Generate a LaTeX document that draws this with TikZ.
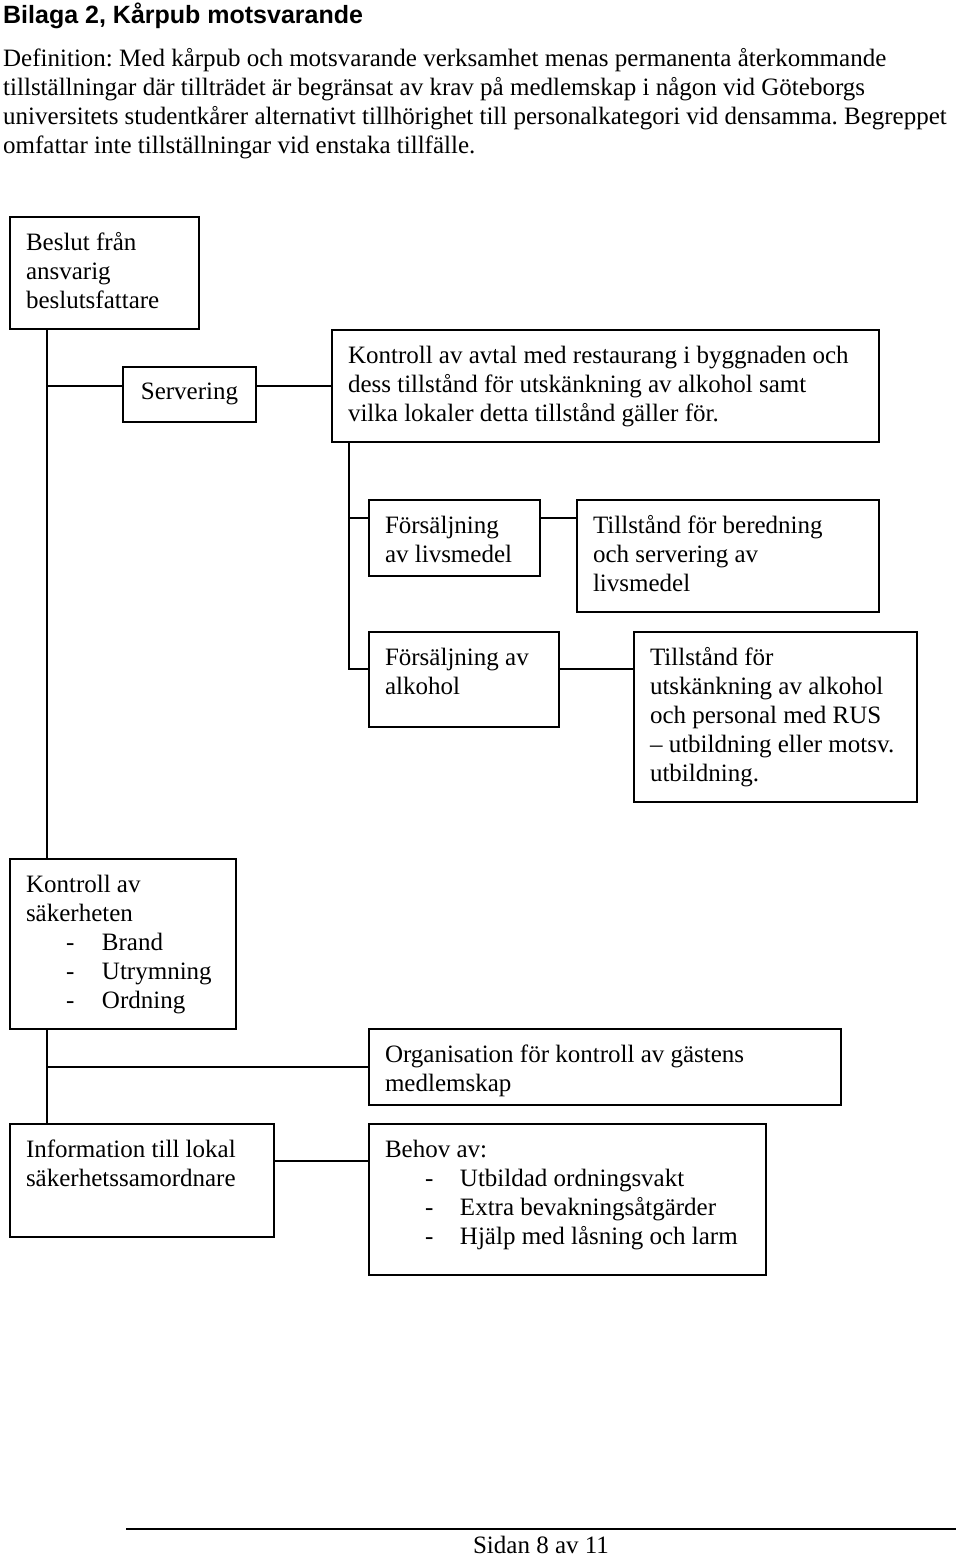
\documentclass[tikz,border=0pt]{standalone}
\usepackage{fontspec}
\setmainfont{Liberation Serif}
\setsansfont{Liberation Sans}
\newcommand{\natsp}{\spaceskip=0pt\xspaceskip=0pt\relax}
\begin{document}
\frenchspacing
\begin{tikzpicture}[x=1pt,y=-1pt,
  box/.style={draw, line width=2pt, anchor=north west, inner xsep=16pt, inner ysep=0pt,
    align=left, text height=33pt, font=\fontsize{25pt}{29pt}\selectfont\frenchspacing},
  conn/.style={line width=2pt},
  txt/.style={inner sep=0pt, font=\fontsize{25pt}{29pt}\selectfont\frenchspacing}]
\useasboundingbox[fill=white] (0,0) rectangle (960,1557);

% header
\node[txt, anchor=base west] (title) at (3,24) {\sffamily\bfseries Bilaga 2, Kårpub motsvarande};
\node[txt, anchor=north west, text width=957pt, align=left, text height=26pt] (def) at (3,40)
  {\natsp\mbox{Definition: Med kårpub och motsvarande verksamhet menas permanenta återkommande}\\
   \mbox{tillställningar där tillträdet är begränsat av krav på medlemskap i någon vid Göteborgs}\\
   \mbox{universitets studentkårer alternativt tillhörighet till personalkategori vid densamma. Begreppet}\\
   \mbox{omfattar inte tillställningar vid enstaka tillfälle.}};

% boxes
\node[box, text width=157pt, text depth=79pt] (beslut) at (9,216)
  {\natsp Beslut från\\ansvarig\\beslutsfattare};
\node[box, text width=101pt, text depth=23pt, align=center, text height=32pt] (serv) at (122,366)
  {\natsp Servering};
\node[box, text width=515pt, text depth=79pt] (avtal) at (331,329)
  {\natsp\mbox{Kontroll av avtal med restaurang i byggnaden och}\\\mbox{dess tillstånd för utskänkning av alkohol samt}\\\mbox{vilka lokaler detta tillstånd gäller för.}};
\node[box, text width=139pt, text depth=43pt] (livs) at (368,499)
  {\natsp Försäljning\\av livsmedel};
\node[box, text width=270pt, text depth=79pt] (bered) at (576,499)
  {\natsp\mbox{Tillstånd för beredning}\\och servering av\\livsmedel};
\node[box, text width=158pt, text depth=62pt] (alk) at (368,631)
  {\natsp\mbox{Försäljning av}\\alkohol};
\node[box, text width=251pt, text depth=137pt] (utsk) at (633,631)
  {\natsp Tillstånd för\\\mbox{utskänkning av alkohol}\\\mbox{och personal med RUS}\\\mbox{– utbildning eller motsv.}\\utbildning.};
\node[box, text width=194pt, text depth=137pt] (sak) at (9,858)
  {\natsp Kontroll av\\säkerheten\\
   \hspace*{40pt}\makebox[36pt][l]{-}Brand\\
   \hspace*{40pt}\makebox[36pt][l]{-}Utrymning\\
   \hspace*{40pt}\makebox[36pt][l]{-}Ordning};
\node[box, text width=440pt, text depth=43pt] (org) at (368,1028)
  {\natsp\mbox{Organisation för kontroll av gästens}\\medlemskap};
\node[box, text width=232pt, text depth=80pt] (info) at (9,1123)
  {\natsp\mbox{Information till lokal}\\säkerhetssamordnare};
\node[box, text width=365pt, text depth=118pt] (behov) at (368,1123)
  {\natsp Behov av:\\
   \hspace*{40pt}\makebox[35pt][l]{-}\mbox{Utbildad ordningsvakt}\\
   \hspace*{40pt}\makebox[35pt][l]{-}\mbox{Extra bevakningsåtgärder}\\
   \hspace*{40pt}\makebox[35pt][l]{-}\mbox{Hjälp med låsning och larm}};

% connectors
\coordinate (tx) at (47,0);
\coordinate (j1) at (47,386);
\coordinate (j2) at (349,518);
\coordinate (j3) at (349,669);
\coordinate (j4) at (47,1067);
\coordinate (j5) at (0,1161);
\draw[conn] (beslut.south -| tx) -- (sak.north -| tx);
\draw[conn] (j1) -- (j1 -| serv.west);
\draw[conn] (serv.east |- j1) -- (j1 -| avtal.west);
\draw[conn] (avtal.south -| j2) -- (j3) -- (j3 -| alk.west);
\draw[conn] (j2) -- (j2 -| livs.west);
\draw[conn] (livs.east |- j2) -- (j2 -| bered.west);
\draw[conn] (alk.east |- j3) -- (j3 -| utsk.west);
\draw[conn] (sak.south -| tx) -- (info.north -| tx);
\draw[conn] (j4) -- (j4 -| org.west);
\draw[conn] (info.east |- j5) -- (j5 -| behov.west);

% footer
\draw[line width=1.5pt] (126,1529) -- (956,1529);
\node[txt, anchor=base] (page) at (541,1553) {Sidan 8 av 11};
\end{tikzpicture}
\end{document}
